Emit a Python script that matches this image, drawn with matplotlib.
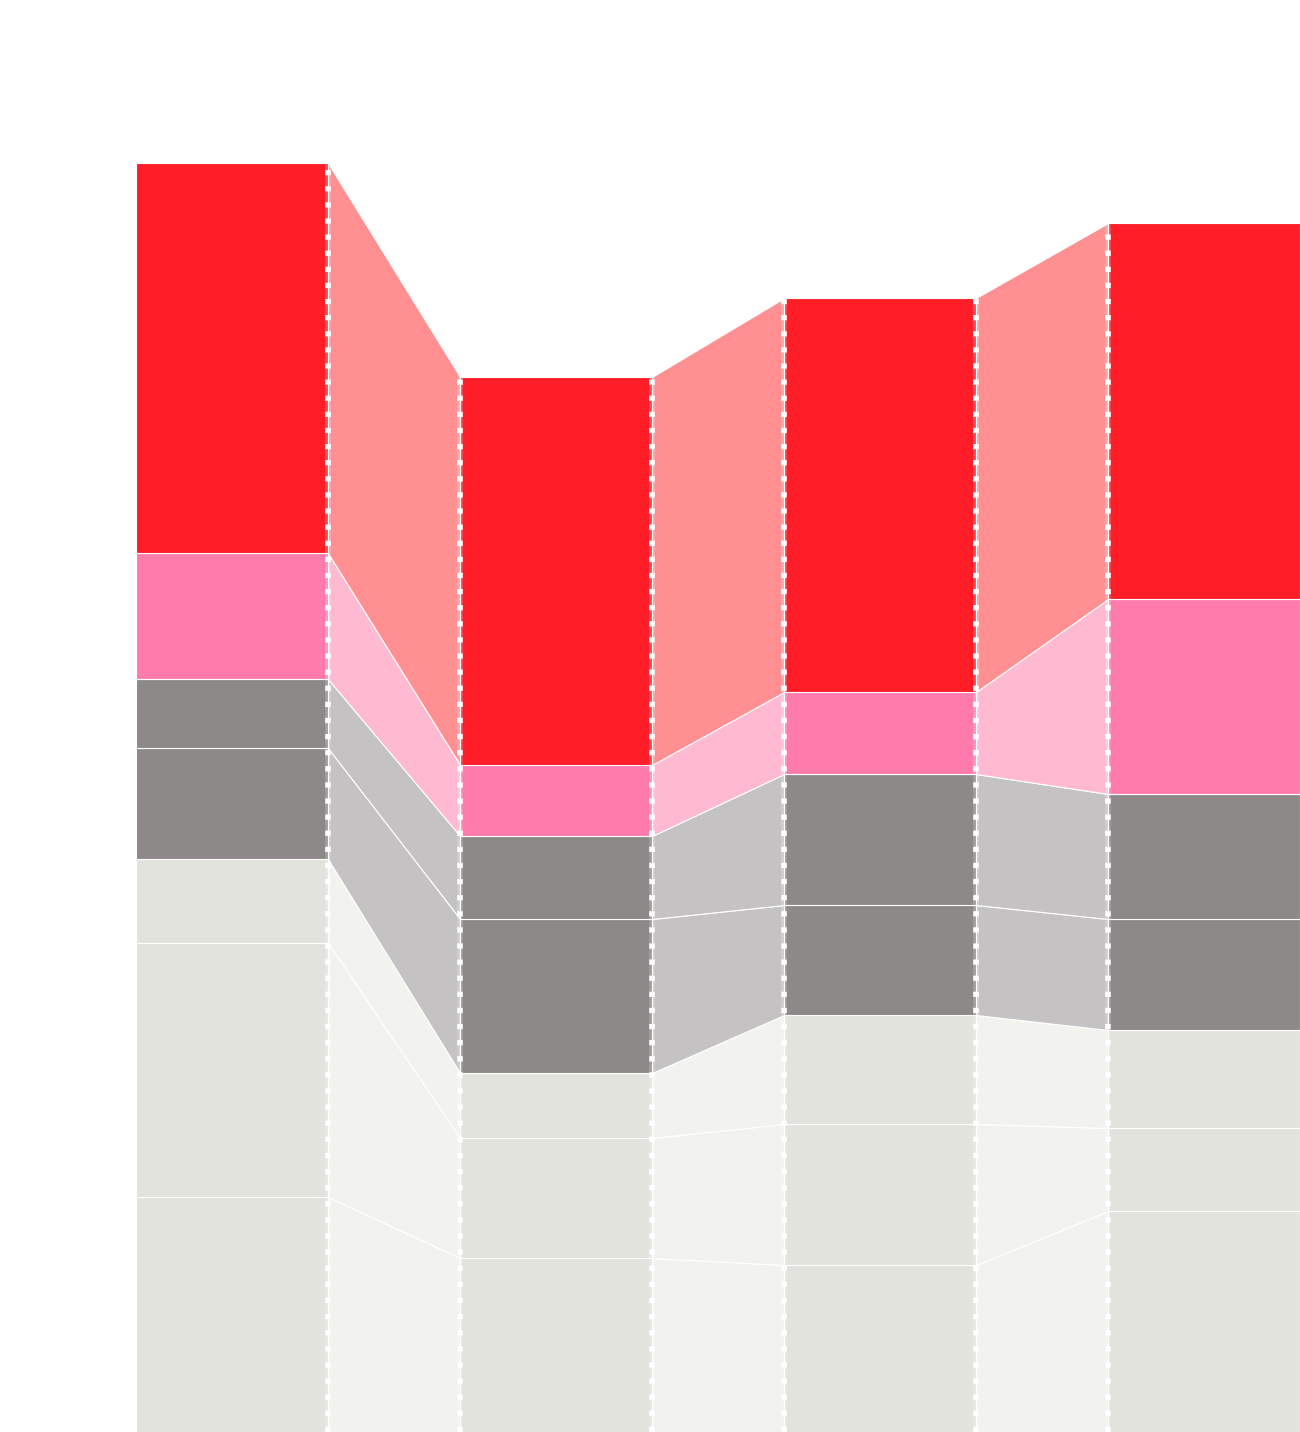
import numpy as np
from matplotlib import pyplot as plt

plt.rcParams['lines.scale_dashes'] = False

# segment heights per bar, bottom to top
seg_a = [235, 254, 84, 111, 69, 126, 390]
seg_b = [174, 120, 65, 154, 83, 71, 388]
seg_c = [167, 141, 109, 110, 131, 82, 394]
seg_d = [221, 83, 98, 111, 125, 195, 376]
bars = [seg_a, seg_b, seg_c, seg_d]

bar_colors = ['#E3E3DD', '#E3E3DD', '#E3E3DD', '#8C8988', '#8C8988', '#FF7BAC', '#FF1E27']
link_colors = ['#F2F2EE', '#F2F2EE', '#F2F2EE', '#C4C2C3', '#C4C2C3', '#FFBAD2', '#FF8F91']

width = 0.592

fig = plt.figure(figsize=(13, 14.32), dpi=100)
ax = fig.add_axes([0, 0, 1, 1])
ax.set_xlim(-0.716, 3.296)
ax.set_ylim(0, 1432)
ax.axis('off')

tops = [np.cumsum(s) for s in bars]
bottoms = [t - np.array(s) for t, s in zip(tops, bars)]

for i, segs in enumerate(bars):
    ax.bar([i] * len(segs), segs, bottom=bottoms[i], width=width,
           color=bar_colors, edgecolor='white', linewidth=0.8, zorder=2)

for i in range(len(bars) - 1):
    x0 = i + width / 2
    x1 = i + 1 - width / 2
    for k in range(len(bar_colors)):
        ax.fill_between([x0, x1], [bottoms[i][k], bottoms[i + 1][k]],
                        [tops[i][k], tops[i + 1][k]],
                        facecolor=link_colors[k], edgecolor='white', linewidth=0.8, zorder=1)

# dashed edges where links meet bars
for i in range(len(bars)):
    edges = []
    if i > 0:
        edges.append(i - width / 2)
    if i < len(bars) - 1:
        edges.append(i + width / 2)
    for x in edges:
        ax.plot([x, x], [0, tops[i][-1]], color='white', alpha=0.2, lw=4.0, zorder=3)
        ax.plot([x, x], [0, tops[i][-1]], color='white', lw=4.0,
                dashes=(3.8, 7.8), zorder=4)

fig.savefig('out.png', dpi=100)
